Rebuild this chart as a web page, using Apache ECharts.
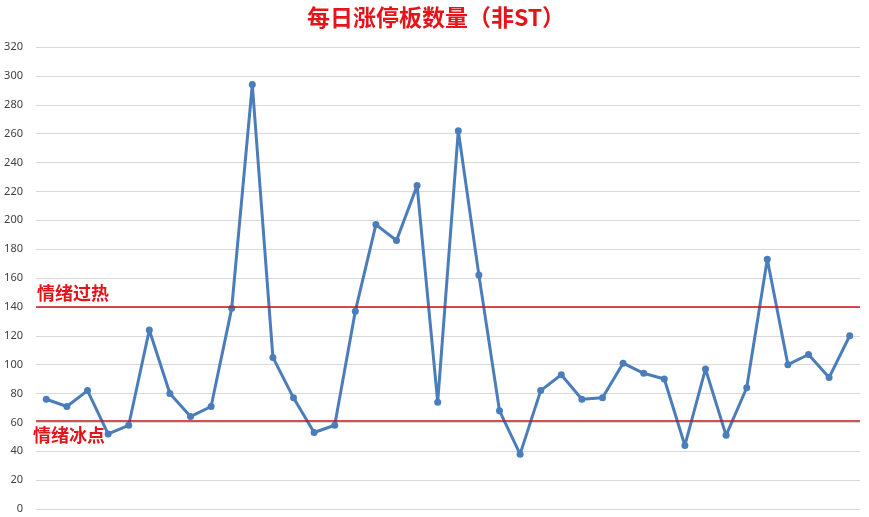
<!DOCTYPE html>
<html>
<head>
<meta charset="utf-8">
<script src="https://cdn.jsdelivr.net/npm/echarts@6/dist/echarts.min.js"></script>
<style>html,body{margin:0;padding:0;background:#fff;}#c{width:869px;height:517px;}</style>
</head>
<body>
<div id="c"></div>
<script>
const titleText = '每日涨停板数量（非ST）';
const categories = Array.from({length: 40}, (_, i) => String(i + 1));
const counts = [76, 71, 82, 52, 58, 124, 80, 64, 71, 139,
                294, 105, 77, 53, 58, 137, 197, 186, 224, 74,
                262, 162, 68, 38, 82, 93, 76, 77, 101, 94,
                90, 44, 97, 51, 84, 173, 100, 107, 91, 120];
const hotLevel = 140;
const coldLevel = 61;
const hotLabel = '情绪过热';
const coldLabel = '情绪冰点';
const yTicks = {min: 0, max: 320, interval: 20};

const red = '#cc1219';
const chart = echarts.init(document.getElementById('c'));
chart.setOption({
  animation: false,
  title: {
    text: titleText, left: 431, textAlign: 'center', top: 1,
    textStyle: {color: '#e3151b', fontSize: 23, fontWeight: 'bold', fontFamily: 'Noto Sans CJK SC'}
  },
  grid: {left: 36, right: 9, top: 47, bottom: 8},
  xAxis: {
    type: 'category', data: categories, boundaryGap: true,
    axisLine: {show: false}, axisTick: {show: false}, axisLabel: {show: false}
  },
  yAxis: {
    type: 'value', min: yTicks.min, max: yTicks.max, interval: yTicks.interval,
    axisLine: {show: false}, axisTick: {show: false},
    axisLabel: {color: '#404040', fontSize: 11, margin: 13, fontFamily: 'Noto Sans'},
    splitLine: {lineStyle: {color: '#d9d9d9', width: 1}}
  },
  series: [{
    type: 'line', data: counts,
    lineStyle: {color: '#4a7dba', width: 3},
    itemStyle: {color: '#4a7dba'},
    symbol: 'circle', symbolSize: 7,
    markLine: {
      silent: true, symbol: 'none',
      lineStyle: {color: red, width: 1.5, type: 'solid', opacity: 1},
      itemStyle: {color: red},
      label: {show: false},
      emphasis: {disabled: true},
      data: [
        {yAxis: hotLevel, lineStyle: {color: red, width: 1.5, type: 'solid'}},
        {yAxis: coldLevel, lineStyle: {color: red, width: 1.5, type: 'solid'}}
      ]
    },
    z: 3
  }],
  graphic: []
});

function placeLabels() {
  const yHot = chart.convertToPixel({yAxisIndex: 0}, hotLevel);
  const yCold = chart.convertToPixel({yAxisIndex: 0}, coldLevel);
  chart.setOption({graphic: [
    {type: 'text', left: 37, top: yHot - 23, z: 10,
     style: {text: hotLabel, fill: '#e3151b', font: 'bold 18px "Noto Sans CJK SC"'}},
    {type: 'text', left: 33, top: yCold + 5, z: 10,
     style: {text: coldLabel, fill: '#e3151b', font: 'bold 18px "Noto Sans CJK SC"'}}
  ]});
}
placeLabels();
</script>
</body>
</html>
